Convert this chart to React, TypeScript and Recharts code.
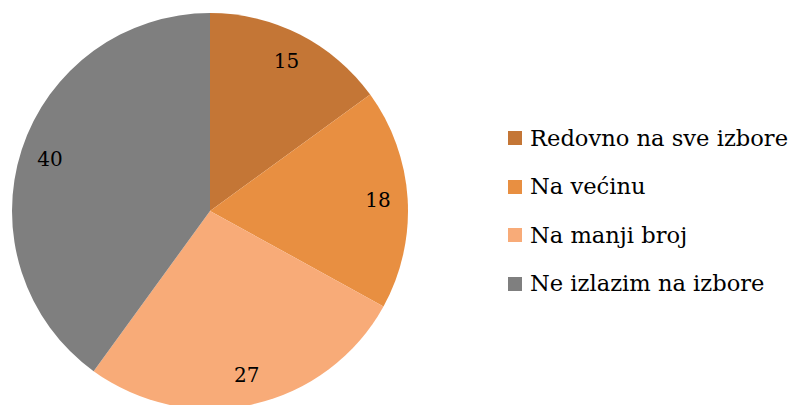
import React from "react";
import { PieChart, Pie, Cell, Legend } from "recharts";

const categories = ["Redovno na sve izbore", "Na većinu", "Na manji broj", "Ne izlazim na izbore"];
const values = [15, 18, 27, 40];
const colors = ["#C47636", "#E88F41", "#F8AB78", "#7F7F7F"];

const data = categories.map((name, i) => ({ name, value: values[i] }));

const FONT = "'DejaVu Serif', serif";

const RAD = Math.PI / 180;
const renderLabel = (props: any) => {
  const { cx, cy, midAngle, outerRadius, value } = props;
  const r = outerRadius * 0.85;
  const x = cx + r * Math.cos(-midAngle * RAD);
  const y = cy + r * Math.sin(-midAngle * RAD);
  return (
    <text
      x={x}
      y={y}
      textAnchor="middle"
      dominantBaseline="central"
      fill="#000"
      style={{ fontFamily: FONT }}
      fontSize={20}
    >
      {value}
    </text>
  );
};

const renderLegend = () => (
  <div style={{ fontFamily: FONT, fontSize: 22.6, color: "#000" }}>
    {categories.map((c, i) => (
      <div key={c} style={{ display: "flex", alignItems: "center", height: 48.5 }}>
        <span
          style={{ display: "inline-block", width: 14, height: 14, background: colors[i], marginRight: 8 }}
        />
        <span style={{ lineHeight: "25px", whiteSpace: "nowrap" }}>{c}</span>
      </div>
    ))}
  </div>
);

export default function App() {
  return (
    <div style={{ position: "absolute", left: 0, top: 0, width: 792, height: 405, background: "#fff" }}>
      <PieChart width={792} height={405} margin={{ top: 0, right: 0, bottom: 0, left: 0 }}>
        <Pie
          data={data}
          dataKey="value"
          nameKey="name"
          cx={210}
          cy={211}
          outerRadius={198}
          startAngle={90}
          endAngle={-270}
          stroke="none"
          label={renderLabel}
          labelLine={false}
          isAnimationActive={false}
        >
          {data.map((d, i) => (
            <Cell key={d.name} fill={colors[i]} />
          ))}
        </Pie>
        <Legend
          content={renderLegend}
          layout="vertical"
          wrapperStyle={{ position: "absolute", left: 508, top: 114, width: 284 }}
        />
      </PieChart>
    </div>
  );
}
